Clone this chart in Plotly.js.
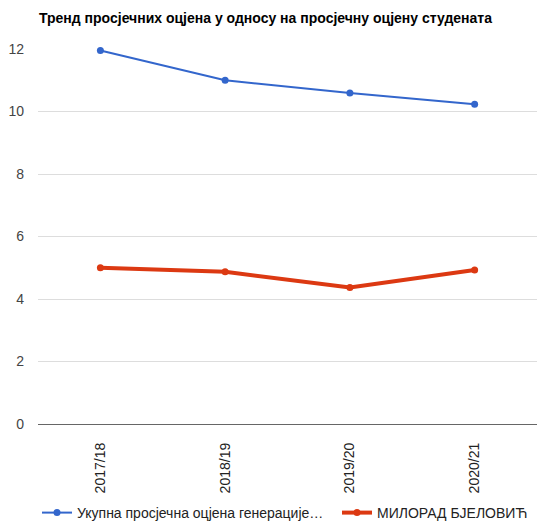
<!DOCTYPE html>
<html>
<head>
<meta charset="utf-8">
<script src="https://cdn.plot.ly/plotly-3.0.1.min.js"></script>
<style>html,body{margin:0;padding:0;background:#fff}#chart{width:537px;height:522px}</style>
</head>
<body>
<div id="chart"></div>
<script>
var years = ["2017/18", "2018/19", "2019/20", "2020/21"];
var generationAvg = [11.95, 11.0, 10.59, 10.23];
var studentAvg = [5.0, 4.87, 4.37, 4.93];
var generationName = "Укупна просјечна оцјена генерације…";
var studentName = "МИЛОРАД БЈЕЛОВИЋ";
var yTicks = [0, 2, 4, 6, 8, 10, 12];
var titleText = "Тренд просјечних оцјена у односу на просјечну оцјену студената";

var font = "Liberation Sans, Arial, sans-serif";

var traces = [
  {
    x: years, y: generationAvg, name: generationName, type: "scatter", mode: "lines+markers",
    line: {color: "#3366cc", width: 2}, marker: {color: "#3366cc", size: 7},
    cliponaxis: false, legend: "legend"
  },
  {
    x: years, y: studentAvg, name: studentName, type: "scatter", mode: "lines+markers",
    line: {color: "#dc3912", width: 4}, marker: {color: "#dc3912", size: 7},
    cliponaxis: false, legend: "legend2"
  }
];

var legendBase = {
  orientation: "h", xanchor: "left", xref: "container",
  y: 9 / 522, yref: "container", yanchor: "middle",
  font: {family: font, size: 14, color: "#222"},
  itemwidth: 30, bgcolor: "rgba(0,0,0,0)"
};

var layout = {
  width: 537, height: 522,
  margin: {l: 38, r: 0, t: 49, b: 98, pad: 0},
  paper_bgcolor: "#fff", plot_bgcolor: "#fff",
  font: {family: font, size: 14, color: "#444"},
  title: {
    text: "<b>" + titleText + "</b>",
    font: {family: font, size: 14, color: "#000"},
    xref: "container", yref: "container",
    x: 39 / 537, xanchor: "left",
    y: 1 - 18 / 522, yanchor: "middle"
  },
  xaxis: {
    type: "category", range: [-0.5, 3.5],
    tickangle: -90, showgrid: false, zeroline: false, showline: false,
    ticks: "", ticklabelstandoff: 15,
    tickfont: {family: font, size: 14, color: "#222"}
  },
  yaxis: {
    range: [0, 12], tickvals: yTicks, ticktext: yTicks.map(String),
    showgrid: true, gridcolor: "#dddddd", gridwidth: 1,
    zeroline: true, zerolinecolor: "#666666", zerolinewidth: 1,
    showline: false, ticks: "", ticklabelstandoff: 13,
    tickfont: {family: font, size: 14, color: "#444"}
  },
  showlegend: true,
  legend: Object.assign({}, legendBase, {x: 37 / 537}),
  legend2: Object.assign({}, legendBase, {x: 337 / 537})
};

Plotly.newPlot("chart", traces, layout, {displayModeBar: false, staticPlot: true});
</script>
</body>
</html>
